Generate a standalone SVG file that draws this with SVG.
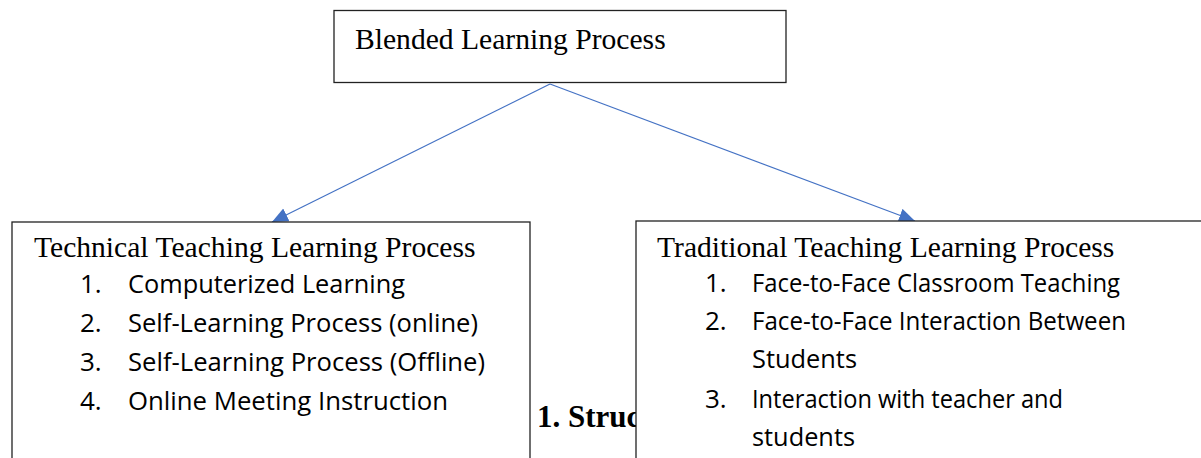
<svg xmlns="http://www.w3.org/2000/svg" width="1201" height="458" viewBox="0 0 1201 458">
  <style>
    .box { fill: #ffffff; stroke: #222222; stroke-width: 1.3; }
    .title { font-family: "Liberation Serif", "Times New Roman", serif; font-size: 29.6px; fill: #000000; }
    .item { font-family: "Open Sans", "Noto Sans", sans-serif; font-size: 26px; fill: #000000; }
    .caption { font-family: "Liberation Serif", "Times New Roman", serif; font-size: 31px; font-weight: bold; fill: #000000; }
    .link { stroke: #4472C4; stroke-width: 1.2; fill: none; marker-end: url(#arrow); }
  </style>
  <defs>
    <marker id="arrow" markerUnits="userSpaceOnUse" markerWidth="17" markerHeight="15" refX="16" refY="7" orient="auto">
      <path d="M0,0 L16,7 L0,14 Z" fill="#4472C4"/>
    </marker>
  </defs>

  <!-- connectors from the root to both branches -->
  <g id="connectors">
    <line class="link" x1="550" y1="84" x2="272" y2="222"/>
    <line class="link" x1="550" y1="84" x2="915" y2="221"/>
  </g>

  <!-- figure caption, partly hidden behind the right-hand box -->
  <text class="caption" x="537" y="427">1. Struc</text>

  <g id="node-blended">
    <rect class="box" x="334" y="10.5" width="452" height="72"/>
    <text class="title" x="355" y="49">Blended Learning Process</text>
  </g>

  <g id="node-technical">
    <rect class="box" x="12" y="222" width="518" height="250"/>
    <text class="title" x="34" y="257">Technical Teaching Learning Process</text>
    <text class="item" x="80" y="293">1.</text>
    <text class="item" x="128" y="293" textLength="277" lengthAdjust="spacingAndGlyphs">Computerized Learning</text>
    <text class="item" x="80" y="332">2.</text>
    <text class="item" x="128" y="332" textLength="350" lengthAdjust="spacingAndGlyphs">Self-Learning Process (online)</text>
    <text class="item" x="80" y="371">3.</text>
    <text class="item" x="128" y="371" textLength="357" lengthAdjust="spacingAndGlyphs">Self-Learning Process (Offline)</text>
    <text class="item" x="80" y="410">4.</text>
    <text class="item" x="128" y="410" textLength="320" lengthAdjust="spacingAndGlyphs">Online Meeting Instruction</text>
  </g>

  <g id="node-traditional">
    <rect class="box" x="636" y="221" width="580" height="250"/>
    <text class="title" x="657" y="257">Traditional Teaching Learning Process</text>
    <text class="item" x="705" y="292">1.</text>
    <text class="item" x="752" y="292" textLength="368" lengthAdjust="spacingAndGlyphs">Face-to-Face Classroom Teaching</text>
    <text class="item" x="705" y="330">2.</text>
    <text class="item" x="752" y="330" textLength="374" lengthAdjust="spacingAndGlyphs">Face-to-Face Interaction Between</text>
    <text class="item" x="752" y="368" textLength="105" lengthAdjust="spacingAndGlyphs">Students</text>
    <text class="item" x="705" y="408">3.</text>
    <text class="item" x="752" y="408" textLength="311" lengthAdjust="spacingAndGlyphs">Interaction with teacher and</text>
    <text class="item" x="752" y="446" textLength="103" lengthAdjust="spacingAndGlyphs">students</text>
  </g>
</svg>
